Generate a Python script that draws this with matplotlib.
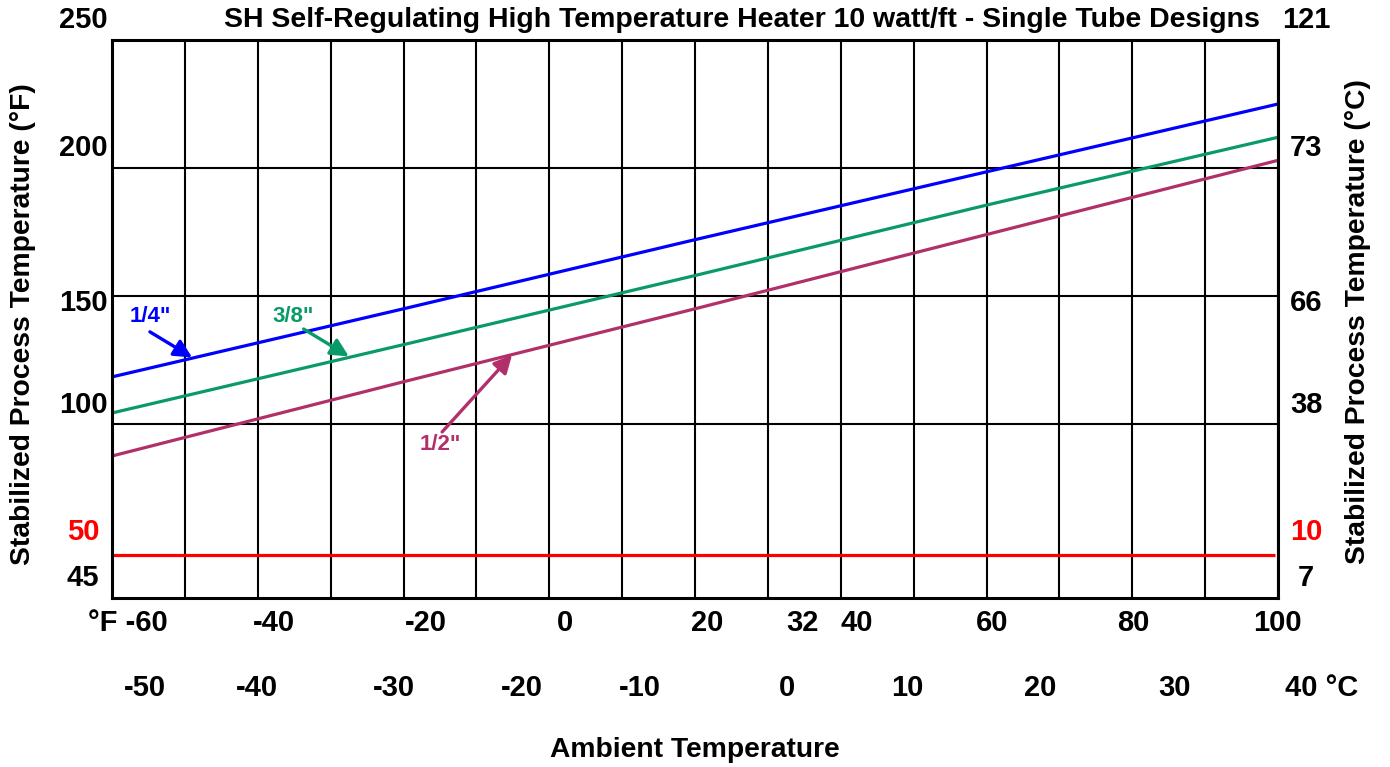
import matplotlib
matplotlib.use("Agg")
import matplotlib.pyplot as plt

# ---------------- data ----------------
ambient_f = [-60, -20, 20, 60, 100]
tube_quarter = [118.4, 145.0, 172.0, 198.5, 225.0]   # 1/4"
tube_3eighth = [104.3, 131.0, 158.0, 185.5, 212.0]   # 3/8"
tube_half = [87.5, 116.5, 145.0, 174.0, 203.0]       # 1/2"
min_line_f = 49

title = "SH Self-Regulating High Temperature Heater 10 watt/ft - Single Tube Designs"
fahr_labels = ["°F -60", "-40", "-20", "0", "20", "32", "40", "60", "80", "100"]
cels_labels = ["-50", "-40", "-30", "-20", "-10", "0", "10", "20", "30", "40 °C"]
left_labels = ["250", "200", "150", "100", "50", "45"]
right_labels = ["121", "73", "66", "38", "10", "7"]
series_names = ['1/4"', '3/8"', '1/2"']

# ---------------- layout ----------------
W, H = 1390, 767
fig = plt.figure(figsize=(W / 100, H / 100), dpi=100)
L, R, T, B = 112, 1278, 40, 598
ax = fig.add_axes([L / W, 1 - B / H, (R - L) / W, (B - T) / H])
xmin, xmax = -60, 100
ymax = 250
ymin = ymax - (B - T) / 2.56
ax.set_xlim(xmin, xmax)
ax.set_ylim(ymin, ymax)

ax.set_xticks(range(-60, 101, 10))
ax.set_yticks([100, 150, 200])
ax.tick_params(length=0, labelbottom=False, labelleft=False)
ax.grid(True, color="black", lw=1.5)
for s in ax.spines.values():
    s.set_linewidth(2.2)
    s.set_color("black")

FONT = "Liberation Sans"
col_q, col_e, col_h = "#0000FF", "#0A9A6A", "#B2306A"

ax.plot(ambient_f, tube_quarter, color=col_q, lw=2.3, solid_capstyle="butt")
ax.plot(ambient_f, tube_3eighth, color=col_e, lw=2.3, solid_capstyle="butt")
ax.plot(ambient_f, tube_half, color=col_h, lw=2.3, solid_capstyle="butt")
ax.hlines(min_line_f, xmin, 99.6, color="#FF0000", lw=2.3)

def figtext(px, py, s, size=20.3, color="black", ha="center", rot=0):
    fig.text(px / W, 1 - py / H, s, fontsize=size, fontweight="bold", family=FONT,
             color=color, ha=ha, va="center", rotation=rot)

NUM = 21
# title
figtext(742, 20, title, size=20.5)

# left / right y labels
left_y = [20, 148, 303, 405, 532, 578]
for lab, py in zip(left_labels, left_y):
    figtext(83, py, lab, size=NUM, color="#FF0000" if lab == "50" else "black")
for lab, py in zip(right_labels, left_y):
    figtext(1306, py, lab, size=NUM, color="#FF0000" if lab == "10" else "black")

# x labels
fahr_x = [128, 274, 426, 565, 707, 802, 857, 992, 1133, 1277]
for lab, px in zip(fahr_labels, fahr_x):
    figtext(px, 623, lab, size=NUM)
cels_x = [145, 257, 394, 522, 640, 787, 907, 1040, 1175, 1322]
for lab, px in zip(cels_labels, cels_x):
    figtext(px, 688, lab, size=NUM)

figtext(695, 750, "Ambient Temperature")
figtext(23, 324, "Stabilized Process Temperature (°F)", rot=90)
figtext(1358, 322, "Stabilized Process Temperature (°C)", rot=90)

# series annotations
annos = [
    (series_names[0], col_q, (-54.8, 141.8), (-54.8, 136.0), (-49.0, 126.0)),
    (series_names[1], col_e, (-35.2, 141.8), (-33.7, 137.1), (-27.5, 126.4)),
    (series_names[2], col_h, (-15.0, 91.8), (-14.7, 96.9), (-5.1, 127.0)),
]
for name, c, tpos, start, tip in annos:
    ax.text(tpos[0], tpos[1], name, color=c, fontsize=16, fontweight="bold",
            family=FONT, ha="center", va="center")
    ax.annotate("", xy=tip, xytext=start,
                arrowprops=dict(arrowstyle="-|>", color=c, lw=2.4,
                                mutation_scale=27, shrinkA=0, shrinkB=0))

fig.savefig("out.png", dpi=100)
